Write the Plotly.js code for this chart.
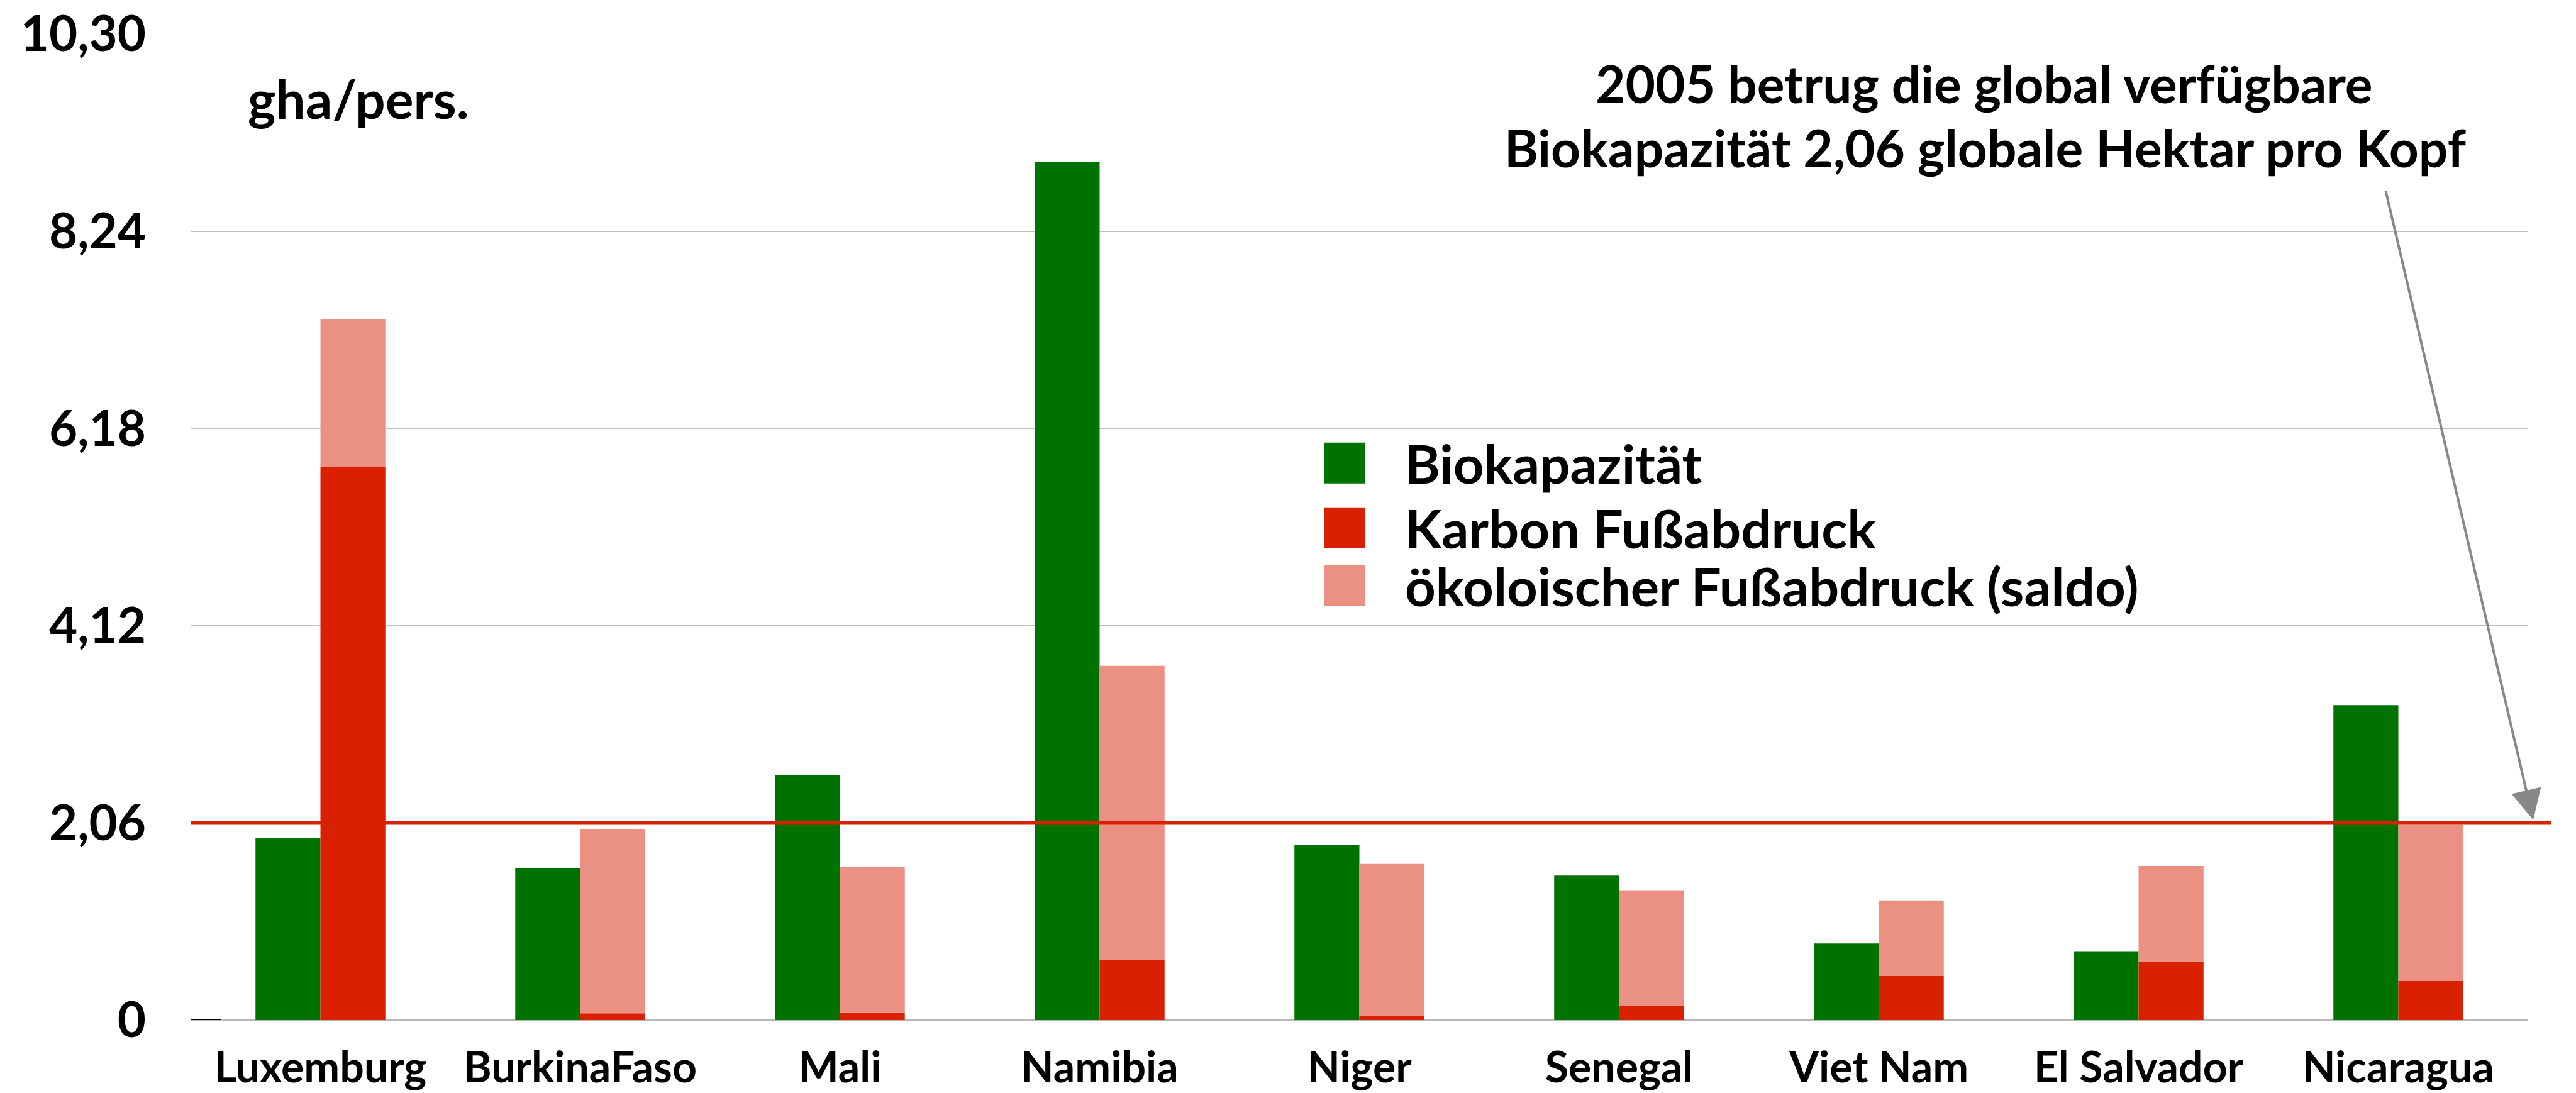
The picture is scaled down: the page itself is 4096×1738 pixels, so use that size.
<!DOCTYPE html>
<html><head><meta charset="utf-8">
<script src="https://cdn.plot.ly/plotly-3.0.1.min.js"></script>
<style>html,body{margin:0;padding:0;background:#fff;} #chart{width:4096px;height:1738px;}</style>
</head><body><div id="chart"></div>
<script>
// ---- data ----
const countries = ["Luxemburg","BurkinaFaso","Mali","Namibia","Niger","Senegal","Viet Nam","El Salvador","Nicaragua"];
const biokapazitaet = [1.90, 1.59, 2.56, 8.96, 1.83, 1.51, 0.80, 0.72, 3.29];
const karbon = [5.78, 0.07, 0.08, 0.63, 0.04, 0.15, 0.46, 0.61, 0.41];
const saldo = [1.54, 1.92, 1.52, 3.07, 1.59, 1.20, 0.79, 1.00, 1.63];
const seriesNames = ["Biokapazität", "Karbon Fußabdruck", "ökoloischer Fußabdruck (saldo)"];
const yTickVals = [0, 2.06, 4.12, 6.18, 8.24, 10.30];
const yTickText = ["0", "2,06", "4,12", "6,18", "8,24", "10,30"];
const globalBiocap = 2.06;
const unitLabel = "gha/pers.";
const noteLines = ["2005 betrug die global verfügbare", "Biokapazität 2,06 globale Hektar pro Kopf"];

// ---- style ----
const colors = ["#007200", "#d92000", "#eb9183"];
const FONT = "Lato, 'Open Sans', sans-serif";
const W = 4096, H = 1738;
const L = 303, R = 4020, T = 53.5, B = 1622;
const px2x = px => (px - L) / (R - L);
const py2y = py => (B - py) / (B - T);

const traces = [
  {type: "bar", name: seriesNames[0], x: countries, y: biokapazitaet, offsetgroup: "a",
   marker: {color: colors[0], line: {width: 0}}},
  {type: "bar", name: seriesNames[1], x: countries, y: karbon, offsetgroup: "b",
   marker: {color: colors[1], line: {width: 0}}},
  {type: "bar", name: seriesNames[2], x: countries, y: saldo, base: karbon, offsetgroup: "b",
   marker: {color: colors[2], line: {width: 0}}}
];

const shapes = [
  {type: "line", xref: "paper", yref: "y", x0: 0, x1: px2x(4057), y0: globalBiocap, y1: globalBiocap,
   line: {color: "#d92000", width: 6}, layer: "above"},
  {type: "line", xref: "paper", yref: "y", x0: 0, x1: px2x(351), y0: 0, y1: 0,
   line: {color: "#000", width: 3}, layer: "above"}
];
const annotations = [
  {xref: "paper", yref: "paper", x: px2x(392), y: py2y(156), xanchor: "left", yanchor: "middle",
   text: unitLabel, showarrow: false, font: {family: FONT, size: 84, color: "#000", weight: 700}},
  {xref: "paper", yref: "paper", x: px2x(3155), y: py2y(132), xanchor: "center", yanchor: "middle",
   text: noteLines[0], showarrow: false, font: {family: FONT, size: 82, color: "#000", weight: 700}},
  {xref: "paper", yref: "paper", x: px2x(3157), y: py2y(234), xanchor: "center", yanchor: "middle",
   text: noteLines[1], showarrow: false, font: {family: FONT, size: 82, color: "#000", weight: 700}},
  {xref: "paper", yref: "y", x: px2x(4028), y: 2.09, text: "", showarrow: true,
   axref: "pixel", ayref: "pixel", ax: -235, ay: -1002,
   arrowcolor: "#888888", arrowwidth: 4, arrowhead: 2, arrowsize: 2.4, standoff: 0, startstandoff: 0}
];
// manual legend
const legRows = [736, 839, 931];
seriesNames.forEach((nm, i) => {
  shapes.push({type: "rect", xref: "paper", yref: "paper",
    x0: px2x(2105), x1: px2x(2170), y0: py2y(legRows[i] + 32.5), y1: py2y(legRows[i] - 32.5),
    fillcolor: colors[i], line: {width: 0}});
  annotations.push({xref: "paper", yref: "paper", x: px2x(2232), y: py2y(legRows[i]),
    xanchor: "left", yanchor: "middle", text: nm, showarrow: false,
    font: {family: FONT, size: 85, color: "#000", weight: 700}});
});

const layout = {
  width: W, height: H,
  margin: {l: L, r: W - R, t: T, b: H - B, pad: 0},
  paper_bgcolor: "#fff", plot_bgcolor: "#fff",
  barmode: "group", bargap: 0.5, bargroupgap: 0,
  showlegend: false, hovermode: false,
  xaxis: {type: "category", showgrid: false, zeroline: false, showline: false, ticks: "",
    tickfont: {family: FONT, size: 68, color: "#000", weight: 700}, ticklabelstandoff: 30, fixedrange: true},
  yaxis: {range: [0, 10.30], tickmode: "array", tickvals: yTickVals, ticktext: yTickText,
    showgrid: true, gridcolor: "#c0c0c0", gridwidth: 2,
    zeroline: true, zerolinecolor: "#b8b8b8", zerolinewidth: 3, showline: false, ticks: "",
    tickfont: {family: FONT, size: 78, color: "#000", weight: 700}, ticklabelstandoff: 70, fixedrange: true},
  shapes: shapes, annotations: annotations
};
Plotly.newPlot("chart", traces, layout, {displayModeBar: false, staticPlot: true});
</script></body></html>
